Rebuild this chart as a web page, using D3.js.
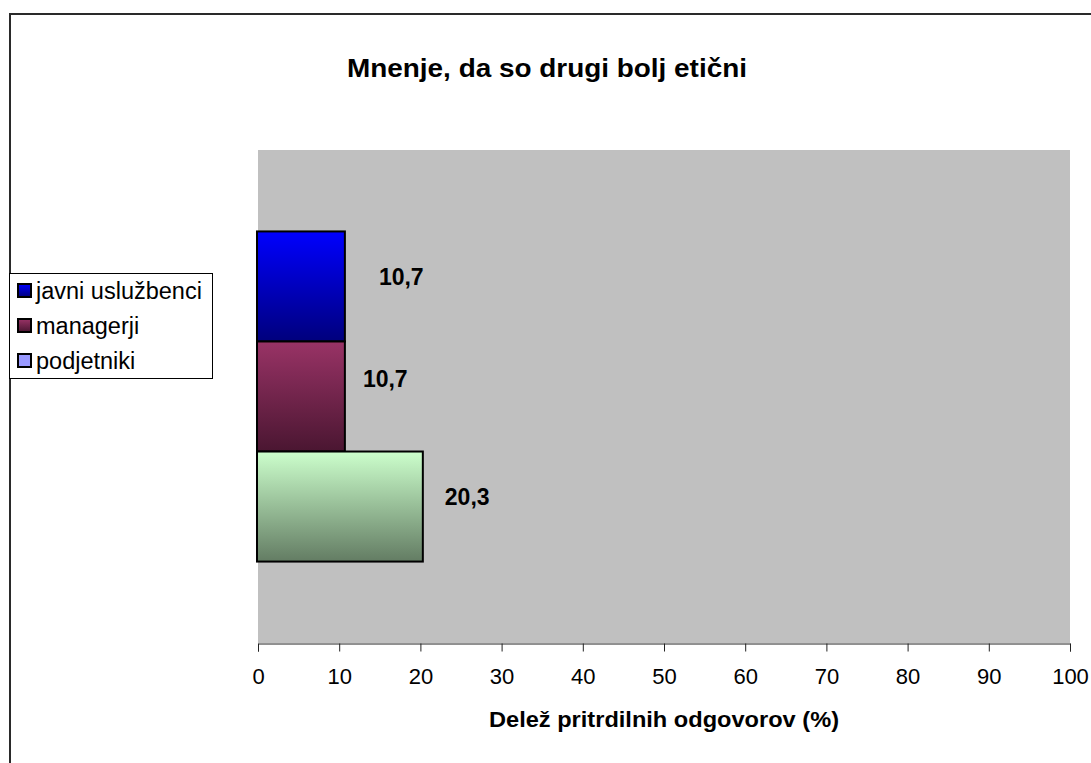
<!DOCTYPE html>
<html>
<head>
<meta charset="utf-8">
<script src="https://cdn.jsdelivr.net/npm/d3@7"></script>
<style>
  html, body { margin: 0; padding: 0; background: #fff; }
  svg { display: block; font-family: Arial, "Liberation Sans", sans-serif; }
</style>
</head>
<body>
<svg id="chart" width="1091" height="763"></svg>
<script>
// Survey: share answering that others are more ethical
const seriesNames = ["javni uslužbenci", "managerji", "podjetniki"];
const seriesValues = [10.7, 10.7, 20.3];
const valueLabels = ["10,7", "10,7", "20,3"];
const xTicks = [0, 10, 20, 30, 40, 50, 60, 70, 80, 90, 100];
const chartTitle = "Mnenje, da so drugi bolj etični";
const xTitle = "Delež pritrdilnih odgovorov (%)";

const svg = d3.select("#chart");
const W = 1091, H = 763;

// Bar fills (vertical gradients) and legend swatch fills
const barGrad = [
  ["#0000ff", "#00007c"],
  ["#993366", "#4a1631"],
  ["#ccffcc", "#637c63"]
];
const legendFill = ["url(#lg0)", "url(#lg1)", "#9999ff"];

const defs = svg.append("defs");
barGrad.forEach((g, i) => {
  ["g", "lg"].forEach(prefix => {
    const lg = defs.append("linearGradient")
      .attr("id", prefix + i).attr("x1", 0).attr("y1", 0).attr("x2", 0).attr("y2", 1);
    lg.append("stop").attr("offset", "0%").attr("stop-color", g[0]);
    lg.append("stop").attr("offset", "100%").attr("stop-color", g[1]);
  });
});

// Chart frame
svg.append("rect").attr("x", 10).attr("y", 14).attr("width", W + 20).attr("height", H + 20)
  .attr("fill", "#fff").attr("stroke", "#2a2a2a").attr("stroke-width", 2);

// Plot area
const plot = { left: 258, right: 1070, top: 150, bottom: 643 };
svg.append("rect")
  .attr("x", plot.left).attr("y", plot.top)
  .attr("width", plot.right - plot.left).attr("height", plot.bottom - plot.top)
  .attr("fill", "#c0c0c0");

const x = d3.scaleLinear().domain([0, 100]).range([plot.left, plot.right]);
const y = d3.scaleBand().domain(seriesNames).range([plot.top, plot.bottom])
  .paddingInner(0).paddingOuter(0.74);

// Bars
svg.append("g").selectAll("rect").data(seriesNames).join("rect")
  .attr("x", x(0) - 1)
  .attr("y", d => y(d))
  .attr("width", (d, i) => x(seriesValues[i]) - x(0) + 1)
  .attr("height", y.bandwidth())
  .attr("fill", (d, i) => "url(#g" + i + ")")
  .attr("stroke", "#000").attr("stroke-width", 2);

// Value labels beside each bar
const labelNudge = [{ dx: 34, dy: 54 }, { dx: 18, dy: 46 }, { dx: 22, dy: 53 }];
svg.append("g").selectAll("text").data(seriesNames).join("text")
  .attr("x", (d, i) => x(seriesValues[i]) + labelNudge[i].dx)
  .attr("y", (d, i) => y(d) + labelNudge[i].dy)
  .attr("font-size", 23).attr("font-weight", "bold").attr("fill", "#000")
  .text((d, i) => valueLabels[i]);

// X axis
const axis = svg.append("g").attr("transform", `translate(0,${plot.bottom + 0.5})`)
  .call(d3.axisBottom(x).tickValues(xTicks).tickSize(8).tickPadding(17).tickFormat(d3.format("d")));
axis.select(".domain").attr("stroke", "#222");
axis.selectAll(".tick line").attr("stroke", "#222");
axis.selectAll(".tick text").attr("font-size", 22).attr("fill", "#000")
  .attr("font-family", "Arial, 'Liberation Sans', sans-serif");

// Titles
svg.append("text").attr("x", 547).attr("y", 77).attr("text-anchor", "middle")
  .attr("font-size", 25).attr("font-weight", "bold")
  .attr("textLength", 400).attr("lengthAdjust", "spacingAndGlyphs")
  .text(chartTitle);
svg.append("text").attr("x", (plot.left + plot.right) / 2).attr("y", 727).attr("text-anchor", "middle")
  .attr("font-size", 22).attr("font-weight", "bold")
  .attr("textLength", 350).attr("lengthAdjust", "spacingAndGlyphs")
  .text(xTitle);

// Legend
const legend = svg.append("g");
legend.append("rect").attr("x", 9.5).attr("y", 273.5).attr("width", 203).attr("height", 105)
  .attr("fill", "#fff").attr("stroke", "#000").attr("stroke-width", 1);
const rows = legend.selectAll("g.row").data(seriesNames).join("g").attr("class", "row")
  .attr("transform", (d, i) => `translate(0,${284 + i * 35})`);
rows.append("rect").attr("x", 18).attr("y", 0).attr("width", 13).attr("height", 13)
  .attr("fill", (d, i) => legendFill[i]).attr("stroke", "#000").attr("stroke-width", 2);
rows.append("text").attr("x", 36).attr("y", 15)
  .attr("font-size", 23.5).attr("fill", "#000")
  .text(d => d);
</script>
</body>
</html>
